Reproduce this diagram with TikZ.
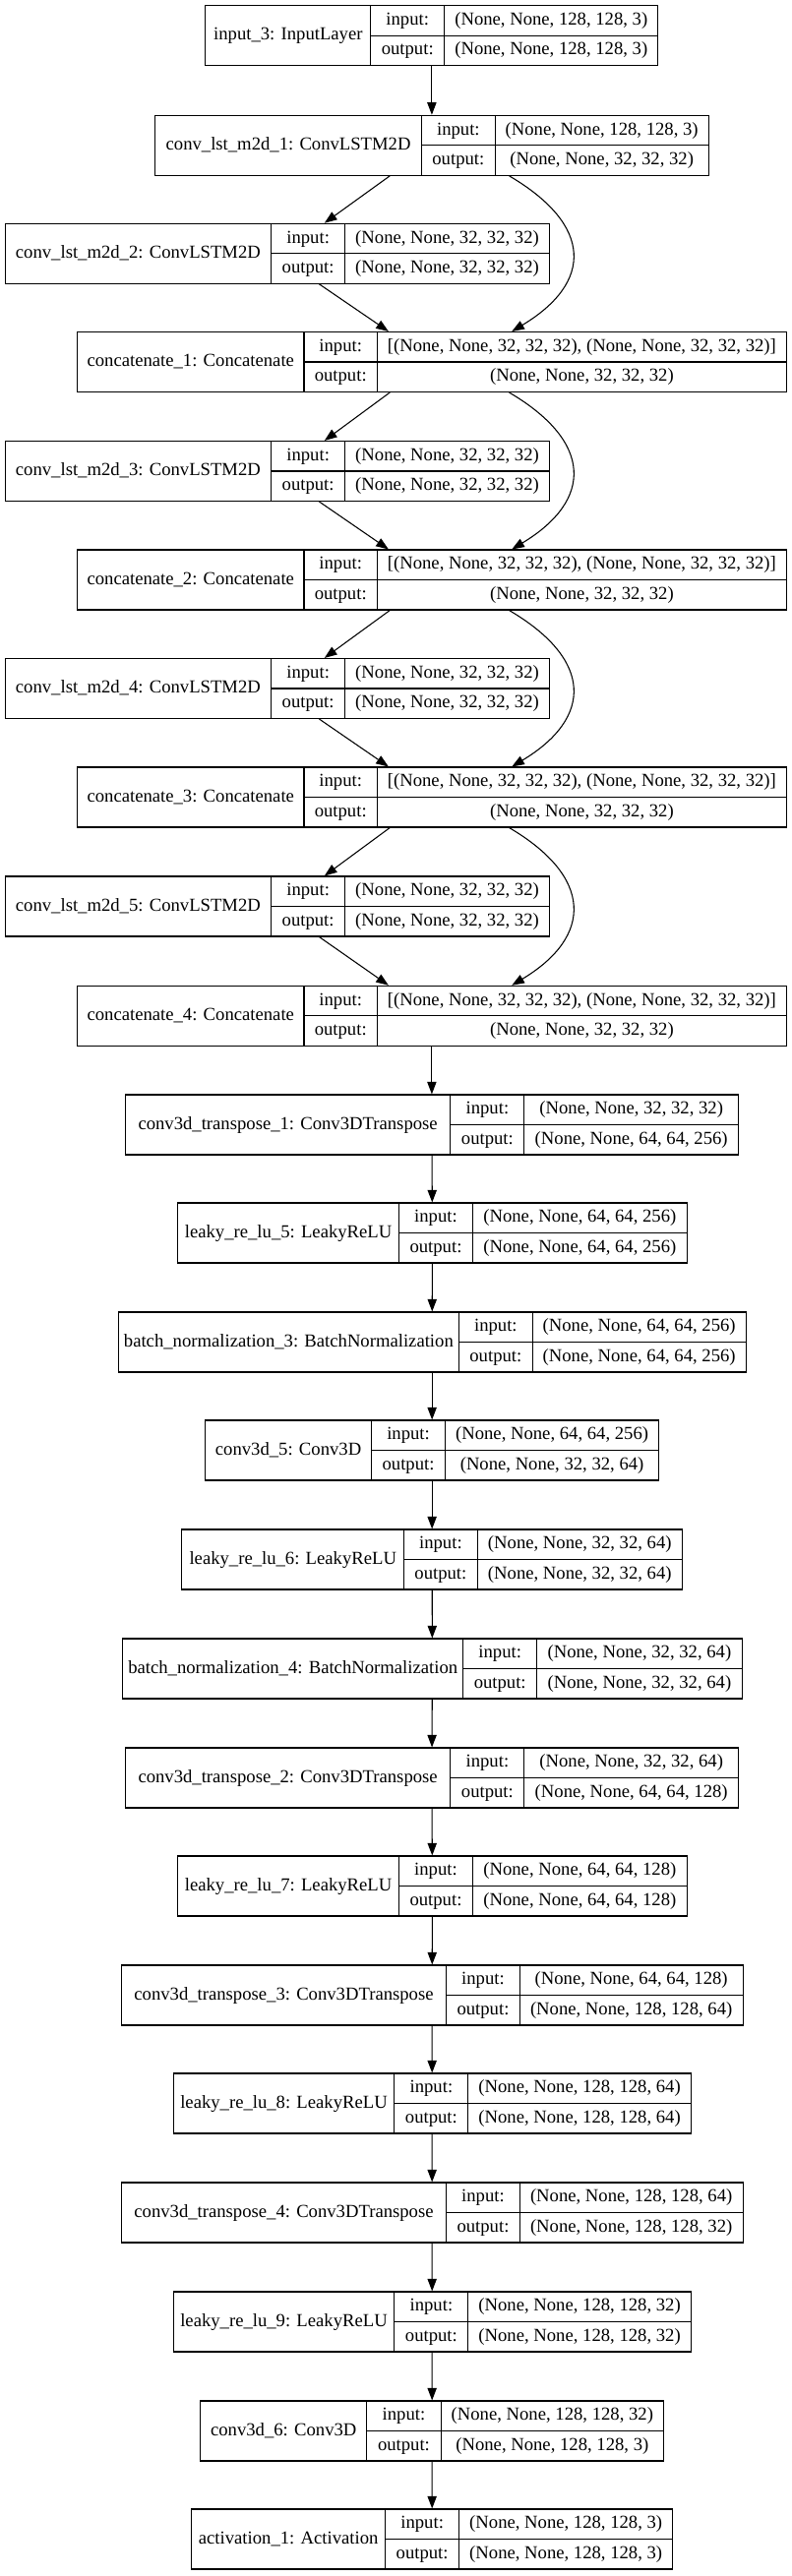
\documentclass[tikz,border=0pt]{standalone}
\usepackage{fontspec}
\setmainfont{Liberation Serif}
\usetikzlibrary{arrows.meta}

\tikzset{
	layerbox/.style={draw,rectangle,line width=0.8pt,inner sep=0pt,minimum height=45.75pt},
	celltext/.style={inner sep=0pt,font=\fontsize{14}{16}\selectfont,text height=9.8pt,text depth=3pt},
	arr/.style={line width=0.8pt,-{Triangle[length=9.5pt,width=7pt]}}
}

% one record: name, left, div1, div2, right, top, label, input, output
\newcommand{\netlayer}[9]{%
	\pgfmathsetlengthmacro{\boxw}{(#5-#2)*0.75pt}%
	\node[layerbox,minimum width=\boxw] (#1) at ({(#2+#5)/2},{#6+30.5}) {};
	\node[celltext] (#1-name) at ({(#2+#3)/2},{#6+30.5}) {#7};
	\node[celltext] (#1-inlab) at ({(#3+#4)/2},{#6+15.25}) {input:};
	\node[celltext] (#1-outlab) at ({(#3+#4)/2},{#6+45.75}) {output:};
	\node[celltext] (#1-inshape) at ({(#4+#5)/2},{#6+15.25}) {#8};
	\node[celltext] (#1-outshape) at ({(#4+#5)/2},{#6+45.75}) {#9};
	\draw[line width=0.8pt] (#3,#6) -- (#3,{#6+61}) (#4,#6) -- (#4,{#6+61}) (#3,{#6+30.5}) -- (#5,{#6+30.5});
}

\begin{document}
\begin{tikzpicture}[x=0.75pt,y=-0.75pt]
	\useasboundingbox (0,0) rectangle (805,2619);

	\begin{scope}
		\netlayer{in3}{208.9}{376.8}{451.7}{668.9}{5.7}{input\_3: InputLayer}{(None, None, 128, 128, 3)}{(None, None, 128, 128, 3)}
		\netlayer{c1}{157.6}{428.6}{503.1}{720.2}{117.3}{conv\_lst\_m2d\_1: ConvLSTM2D}{(None, None, 128, 128, 3)}{(None, None, 32, 32, 32)}
		\netlayer{c2}{5.1}{275.7}{350.6}{558.5}{227.3}{conv\_lst\_m2d\_2: ConvLSTM2D}{(None, None, 32, 32, 32)}{(None, None, 32, 32, 32)}
		\netlayer{cc1}{78.5}{309.0}{383.5}{799.3}{337.5}{concatenate\_1: Concatenate}{[(None, None, 32, 32, 32), (None, None, 32, 32, 32)]}{(None, None, 32, 32, 32)}
		\netlayer{c3}{5.1}{275.7}{350.6}{558.5}{448.5}{conv\_lst\_m2d\_3: ConvLSTM2D}{(None, None, 32, 32, 32)}{(None, None, 32, 32, 32)}
		\netlayer{cc2}{78.5}{309.0}{383.5}{799.3}{559}{concatenate\_2: Concatenate}{[(None, None, 32, 32, 32), (None, None, 32, 32, 32)]}{(None, None, 32, 32, 32)}
		\netlayer{c4}{5.1}{275.7}{350.6}{558.5}{669.5}{conv\_lst\_m2d\_4: ConvLSTM2D}{(None, None, 32, 32, 32)}{(None, None, 32, 32, 32)}
		\netlayer{cc3}{78.5}{309.0}{383.5}{799.3}{780}{concatenate\_3: Concatenate}{[(None, None, 32, 32, 32), (None, None, 32, 32, 32)]}{(None, None, 32, 32, 32)}
		\netlayer{c5}{5.1}{275.7}{350.6}{558.5}{891}{conv\_lst\_m2d\_5: ConvLSTM2D}{(None, None, 32, 32, 32)}{(None, None, 32, 32, 32)}
		\netlayer{cc4}{78.5}{309.0}{383.5}{799.3}{1002.3}{concatenate\_4: Concatenate}{[(None, None, 32, 32, 32), (None, None, 32, 32, 32)]}{(None, None, 32, 32, 32)}
		\netlayer{ct1}{127.3}{457.9}{532.9}{750.5}{1113}{conv3d\_transpose\_1: Conv3DTranspose}{(None, None, 32, 32, 32)}{(None, None, 64, 64, 256)}
		\netlayer{lr5}{180.7}{405.5}{480.5}{698.2}{1223}{leaky\_re\_lu\_5: LeakyReLU}{(None, None, 64, 64, 256)}{(None, None, 64, 64, 256)}
		\netlayer{bn3}{120.1}{466.6}{541.1}{758.2}{1334}{batch\_normalization\_3: BatchNormalization}{(None, None, 64, 64, 256)}{(None, None, 64, 64, 256)}
		\netlayer{cv5}{208.4}{377.8}{452.3}{669.9}{1444}{conv3d\_5: Conv3D}{(None, None, 64, 64, 256)}{(None, None, 32, 32, 64)}
		\netlayer{lr6}{184.8}{410.7}{485.1}{693.5}{1555}{leaky\_re\_lu\_6: LeakyReLU}{(None, None, 32, 32, 64)}{(None, None, 32, 32, 64)}
		\netlayer{bn4}{124.7}{470.7}{545.7}{754.1}{1666}{batch\_normalization\_4: BatchNormalization}{(None, None, 32, 32, 64)}{(None, None, 32, 32, 64)}
		\netlayer{ct2}{127.3}{457.9}{532.9}{750.5}{1777}{conv3d\_transpose\_2: Conv3DTranspose}{(None, None, 32, 32, 64)}{(None, None, 64, 64, 128)}
		\netlayer{lr7}{180.7}{405.5}{480.5}{698.2}{1887}{leaky\_re\_lu\_7: LeakyReLU}{(None, None, 64, 64, 128)}{(None, None, 64, 64, 128)}
		\netlayer{ct3}{123.2}{453.8}{528.2}{755.1}{1998}{conv3d\_transpose\_3: Conv3DTranspose}{(None, None, 64, 64, 128)}{(None, None, 128, 128, 64)}
		\netlayer{lr8}{176.1}{400.9}{475.9}{702.3}{2108}{leaky\_re\_lu\_8: LeakyReLU}{(None, None, 128, 128, 64)}{(None, None, 128, 128, 64)}
		\netlayer{ct4}{123.2}{453.8}{528.2}{755.1}{2219}{conv3d\_transpose\_4: Conv3DTranspose}{(None, None, 128, 128, 64)}{(None, None, 128, 128, 32)}
		\netlayer{lr9}{176.1}{400.9}{475.9}{702.3}{2330}{leaky\_re\_lu\_9: LeakyReLU}{(None, None, 128, 128, 32)}{(None, None, 128, 128, 32)}
		\netlayer{cv6}{203.8}{372.7}{448.2}{674.5}{2441}{conv3d\_6: Conv3D}{(None, None, 128, 128, 32)}{(None, None, 128, 128, 3)}
		\netlayer{act1}{194.6}{391.7}{466.6}{683.8}{2551}{activation\_1: Activation}{(None, None, 128, 128, 3)}{(None, None, 128, 128, 3)}
	\end{scope}

	% recurrent block: side branch and skip curve
	\begin{scope}
		\path ([xshift=-32pt]c1.south) edge[arr] ([xshift=36pt]c2.north);
		\path ([xshift=32pt]c2.south) edge[arr] ([xshift=-33pt]cc1.north);
		\draw[arr] ([xshift=59pt]c1.south) .. controls +(85,50) and +(83,-50) .. ([xshift=61pt]cc1.north);

		\path ([xshift=-32pt]cc1.south) edge[arr] ([xshift=36pt]c3.north);
		\path ([xshift=32pt]c3.south) edge[arr] ([xshift=-33pt]cc2.north);
		\draw[arr] ([xshift=59pt]cc1.south) .. controls +(85,50) and +(83,-50) .. ([xshift=61pt]cc2.north);

		\path ([xshift=-32pt]cc2.south) edge[arr] ([xshift=36pt]c4.north);
		\path ([xshift=32pt]c4.south) edge[arr] ([xshift=-33pt]cc3.north);
		\draw[arr] ([xshift=59pt]cc2.south) .. controls +(85,50) and +(83,-50) .. ([xshift=61pt]cc3.north);

		\path ([xshift=-32pt]cc3.south) edge[arr] ([xshift=36pt]c5.north);
		\path ([xshift=32pt]c5.south) edge[arr] ([xshift=-33pt]cc4.north);
		\draw[arr] ([xshift=59pt]cc3.south) .. controls +(85,50) and +(83,-50) .. ([xshift=61pt]cc4.north);
	\end{scope}

	% straight chain
	\begin{scope}
		\path (in3) edge[arr] (c1);
		\path (cc4) edge[arr] (ct1);
		\path (ct1) edge[arr] (lr5);
		\path (lr5) edge[arr] (bn3);
		\path (bn3) edge[arr] (cv5);
		\path (cv5) edge[arr] (lr6);
		\path (lr6) edge[arr] (bn4);
		\path (bn4) edge[arr] (ct2);
		\path (ct2) edge[arr] (lr7);
		\path (lr7) edge[arr] (ct3);
		\path (ct3) edge[arr] (lr8);
		\path (lr8) edge[arr] (ct4);
		\path (ct4) edge[arr] (lr9);
		\path (lr9) edge[arr] (cv6);
		\path (cv6) edge[arr] (act1);
	\end{scope}
\end{tikzpicture}
\end{document}
